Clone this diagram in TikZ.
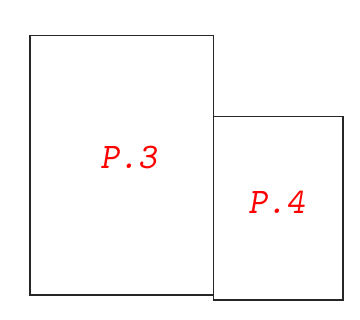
\documentclass[tikz,border=0pt]{standalone}
\usepackage{tikz}
\usetikzlibrary{positioning}

\tikzset{
  panel/.style={draw=black!85, line width=1.3pt},
  plabel/.style={text=red, font=\fontsize{36}{40}\selectfont\ttfamily\slshape, inner sep=0pt}
}

\begin{document}
\begin{tikzpicture}[x=1pt, y=1pt]

\useasboundingbox (0, 0) rectangle (360, 320);

% --- Panels ---
\draw[panel] (30, 25) rectangle (213.5, 284.5);
\draw[panel] (213.5, 20) rectangle (343, 203.5);

% --- Panel labels ---
\node[plabel] (p3) at (128.5, 162) {P.3};
\node[plabel] (p4) at (276.5, 118) {P.4};

\end{tikzpicture}
\end{document}
